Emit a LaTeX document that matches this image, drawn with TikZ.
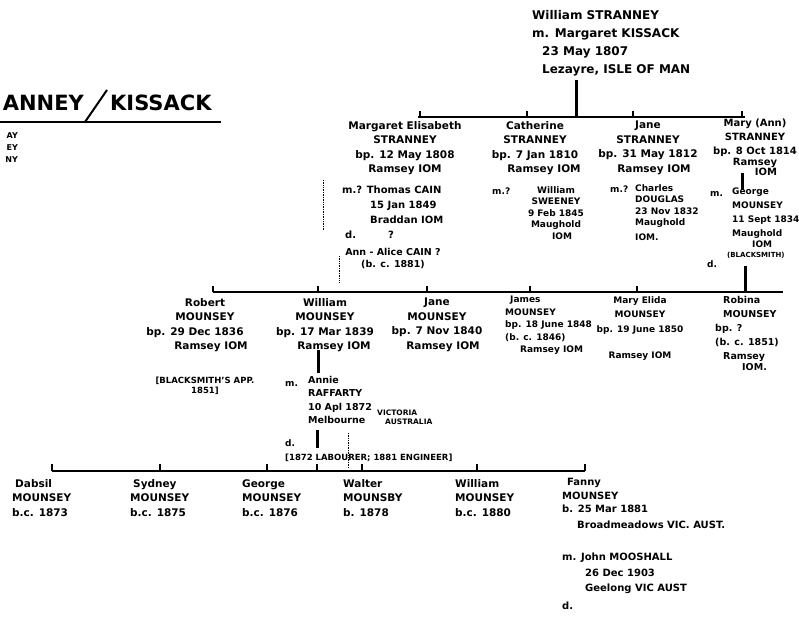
\documentclass[tikz,border=0pt]{standalone}
\usepackage{fontspec}
\setmainfont{DejaVu Sans}
\usetikzlibrary{positioning}

\tikzset{
  hand/.style={inner sep=0pt, font=\bfseries\fontsize{10.5}{14.5}\selectfont},
  person/.style={hand, align=center, anchor=north},
  blk/.style={hand, align=left, anchor=north west},
  wed/.style={blk, font=\bfseries\fontsize{9}{11.5}\selectfont},
  tiny/.style={blk, font=\bfseries\fontsize{6.5}{8.5}\selectfont},
  bar/.style={line width=2.4pt},
  tick/.style={line width=2pt},
  drop/.style={line width=3pt},
  faint/.style={densely dotted, line width=0.7pt}
}

\begin{document}
\begin{tikzpicture}[x=1pt, y=-1pt]
\useasboundingbox (0,0) rectangle (799,616);

% heading, cut at the left edge
\node[hand, anchor=base east, font=\bfseries\fontsize{21}{21}\selectfont] (tA) at (84,110) {ANNEY};
\node[hand, anchor=base west, font=\bfseries\fontsize{21}{21}\selectfont] (tK) at (110,110) {KISSACK};
\coordinate (ul) at (0,122); \coordinate (ur) at (221,122); \coordinate (sl) at (107,90);
\draw[tick] (ul) -- (ur);
\draw[tick] (ul -| 85,0) -- (sl);
\node[blk, anchor=north east, align=right, font=\bfseries\fontsize{8}{12}\selectfont] (cut) at (18,132) {AY\\EY\\NY};

% first couple
\node[blk, font=\bfseries\fontsize{12}{18}\selectfont] (wm) at (532,10) {William STRANNEY\\m. Margaret KISSACK\\\hspace*{10pt}23 May 1807\\\hspace*{10pt}Lezayre, ISLE OF MAN};
\coordinate (pd) at (576,80);
\coordinate (g2a) at (418,117); \coordinate (g2b) at (745,117);
\draw[drop] (pd) -- (pd |- g2a);
\draw[bar] (g2a) -- (g2b);
\foreach \x in {420,527,633,742} \draw[tick] (\x,117) -- ++(0,-6);

% STRANNEY children
\node[person] (me) at (405,121) {Margaret Elisabeth\\STRANNEY\\bp. 12 May 1808\\Ramsey IOM};
\node[blk, font=\bfseries\fontsize{10}{15}\selectfont] (mew) at (342,186) {m.? Thomas CAIN\\\hspace*{28pt}15 Jan 1849\\\hspace*{28pt}Braddan IOM\\\hspace*{3pt}d.\hspace*{32pt}?};
\node[person, font=\bfseries\fontsize{9.5}{12}\selectfont] (aa) at (393,248) {Ann - Alice CAIN ?\\(b. c. 1881)};
\coordinate (q1) at (323,180); \coordinate (q2) at (339,256);
\draw[faint] (q1) -- ++(0,50);
\draw[faint] (q2) -- ++(0,27);

\node[person] (ca) at (535,121) {Catherine\\STRANNEY\\bp. 7 Jan 1810\\\hspace*{18pt}Ramsey IOM};
\node[wed, anchor=west] (cam) at (492,191) {m.?};
\node[wed, align=center, anchor=north] (caw) at (556,186) {William\\SWEENEY\\9 Feb 1845\\Maughold\\\hspace*{12pt}IOM};

\node[person] (ja) at (648,121) {Jane\\STRANNEY\\bp. 31 May 1812\\\hspace*{12pt}Ramsey IOM};
\node[wed, anchor=west] (jam) at (610,189) {m.?};
\node[wed] (jaw) at (635,184) {Charles\\DOUGLAS\\23 Nov 1832\\Maughold\\[3pt]IOM.};

\node[person, font=\bfseries\fontsize{10}{14}\selectfont] (ma) at (755,119) {Mary (Ann)\\STRANNEY\\bp. 8 Oct 1814\\[-3pt]Ramsey\\[-4pt]\hspace*{22pt}IOM};
\coordinate (mg1) at (742,173); \coordinate (mg2) at (742,190);
\draw[drop] (mg1) -- (mg2);
\node[wed, anchor=west] (mam) at (710,194) {m.};
\node[blk, font=\bfseries\fontsize{9}{14}\selectfont] (gm) at (732,188) {George\\MOUNSEY\\11 Sept 1834\\Maughold\\[-3pt]\hspace*{20pt}IOM\\[-4pt]\hspace*{-5pt}{\fontsize{7}{7}\selectfont (BLACKSMITH)}};
\node[wed, anchor=west] (gmd) at (707,264) {d.};

% MOUNSEY children
\coordinate (gd1) at (745,266);
\coordinate (g3a) at (213,292); \coordinate (g3b) at (783,292);
\draw[drop] (gd1) -- (gd1 |- g3a);
\draw[bar] (g3a) -- (g3b);
\foreach \x in {213,318,427,530,637,745} \draw[tick] (\x,292) -- ++(0,-6);

\node[person] (rm) at (205,298) {Robert\\MOUNSEY\\\hspace*{-20pt}bp. 29 Dec 1836\\\hspace*{12pt}Ramsey IOM};
\node[person, font=\bfseries\fontsize{8.5}{10}\selectfont] (rma) at (205,377) {[BLACKSMITH'S APP.\\1851]};

\node[person] (wmo) at (325,298) {William\\MOUNSEY\\bp. 17 Mar 1839\\\hspace*{18pt}Ramsey IOM};
\coordinate (wa1) at (318,350); \coordinate (wa2) at (318,373);
\draw[drop] (wa1) -- (wa2);
\node[wed, anchor=west] (wam) at (285,384) {m.};
\node[blk, font=\bfseries\fontsize{9.5}{13.5}\selectfont] (an) at (308,376) {Annie\\RAFFARTY\\10 Apl 1872\\Melbourne};
\node[tiny, font=\bfseries\fontsize{7.5}{8.5}\selectfont] (vic) at (377,410) {VICTORIA\\\hspace*{8pt}AUSTRALIA};
\node[wed, anchor=west] (and) at (285,443) {d.};
\node[tiny, anchor=west, font=\bfseries\fontsize{8.5}{9}\selectfont] (occ) at (285,458) {[1872 LABOURER; 1881 ENGINEER]};

\node[person] (jm) at (437,298) {Jane\\MOUNSEY\\bp. 7 Nov 1840\\\hspace*{12pt}Ramsey IOM};
\node[blk, font=\bfseries\fontsize{9}{12.5}\selectfont] (jsm) at (505,296) {\hspace*{5pt}James\\MOUNSEY\\bp. 18 June 1848\\(b. c. 1846)\\\hspace*{15pt}Ramsey IOM};
\node[person, font=\bfseries\fontsize{9}{14.5}\selectfont] (mem) at (640,296) {Mary Elida\\MOUNSEY\\bp. 19 June 1850\\[12pt]Ramsey IOM};
\node[blk, font=\bfseries\fontsize{9.5}{14}\selectfont] (rb) at (715,296) {\hspace*{8pt}Robina\\\hspace*{8pt}MOUNSEY\\bp. ?\\(b. c. 1851)\\\hspace*{8pt}Ramsey\\[-3pt]\hspace*{27pt}IOM.};

% children of William and Annie
\coordinate (wa3) at (317,430); \coordinate (wa4) at (317,448);
\coordinate (g4a) at (52,471); \coordinate (g4b) at (585,471);
\draw[drop] (wa3) -- (wa4);
\draw[bar] (g4a) -- (g4b);
\foreach \x in {52,160,267,317,362,477,585} \draw[tick] (\x,471) -- ++(0,-7);
\coordinate (q3) at (348,433);
\draw[faint] (q3) -- ++(0,35);

\node[blk] (db) at (12,479) {\hspace*{3pt}Dabsil\\MOUNSEY\\b.c. 1873};
\node[blk] (sy) at (130,479) {\hspace*{3pt}Sydney\\MOUNSEY\\b.c. 1875};
\node[blk] (ge) at (242,479) {George\\MOUNSEY\\b.c. 1876};
\node[blk] (wa) at (343,479) {Walter\\MOUNSBY\\b. 1878};
\node[blk] (wi) at (455,479) {William\\MOUNSEY\\b.c. 1880};
\node[blk, font=\bfseries\fontsize{10}{13.5}\selectfont] (fa) at (562,478) {\hspace*{5pt}Fanny\\MOUNSEY\\b. 25 Mar 1881\\[2pt]\hspace*{15pt}Broadmeadows VIC. AUST.};
\node[blk, font=\bfseries\fontsize{10}{15.5}\selectfont] (faw) at (562,553) {m. John MOOSHALL\\\hspace*{23pt}26 Dec 1903\\\hspace*{23pt}Geelong VIC AUST\\[2pt]d.};
\end{tikzpicture}
\end{document}
